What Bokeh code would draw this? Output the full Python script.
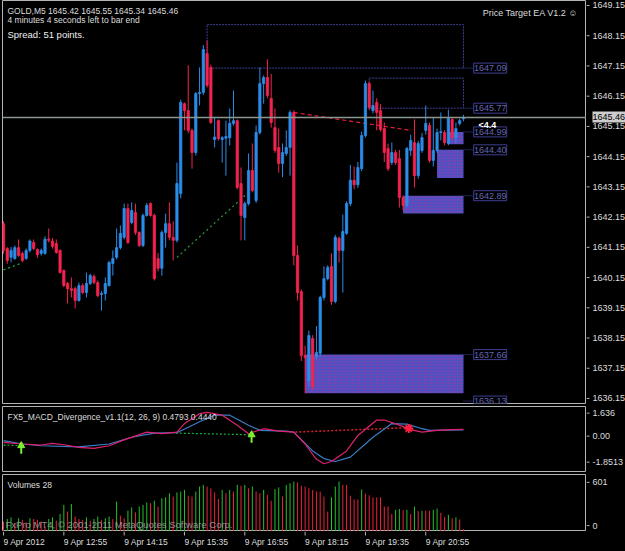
import numpy as np
from bokeh.plotting import figure
from bokeh.layouts import column, row
from bokeh.models import Range1d, Span, ColumnDataSource
from bokeh.core.properties import value
from bokeh.embed import file_html
from bokeh.resources import INLINE

# ---------------- data ----------------
opens = [1641.97, 1641.15, 1640.86, 1640.82, 1641.18, 1640.99, 1640.82, 1641.09, 1641.35, 1641.12,
         1640.99, 1640.99, 1641.46, 1641.40, 1641.32, 1641.09, 1640.43, 1640.00, 1639.83, 1639.83,
         1639.44, 1639.93, 1639.70, 1640.00, 1640.23, 1640.03, 1639.64, 1639.67, 1639.93, 1640.66,
         1640.86, 1641.18, 1641.52, 1642.47, 1642.01, 1642.34, 1641.68, 1641.25, 1642.24, 1642.63,
         1642.24, 1640.82, 1640.50, 1641.68, 1641.97, 1641.52, 1641.42, 1642.96, 1645.92, 1645.69,
         1645.04, 1644.31, 1646.25, 1646.29, 1647.57, 1647.11, 1644.74, 1645.36, 1644.74, 1644.78,
         1644.80, 1645.27, 1645.36, 1643.29, 1642.17, 1642.63, 1643.72, 1642.73, 1644.97, 1646.58,
         1646.78, 1646.09, 1645.13, 1644.48, 1643.95, 1644.28, 1644.48, 1645.63, 1640.92, 1639.73,
         1637.63, 1636.80, 1638.19, 1637.60, 1637.70, 1639.54, 1640.16, 1640.56, 1639.41, 1641.49,
         1641.09, 1641.65, 1642.63, 1643.40, 1643.25, 1643.78, 1644.87, 1646.58, 1645.69, 1645.96,
         1645.69, 1645.10, 1644.44, 1643.98, 1644.31, 1644.11, 1642.83, 1642.57, 1644.38, 1644.64,
         1643.55, 1644.38, 1645.04, 1645.20, 1644.05, 1644.38, 1644.97, 1644.97, 1644.61, 1645.40,
         1644.80, 1645.27, 1645.42]
highs = [1642.05, 1641.20, 1641.20, 1641.25, 1641.45, 1641.05, 1641.15, 1641.45, 1641.45, 1641.15,
         1641.15, 1641.55, 1641.81, 1641.50, 1641.45, 1641.12, 1640.46, 1640.05, 1640.20, 1639.90,
         1640.03, 1640.00, 1640.36, 1640.32, 1640.30, 1640.10, 1639.75, 1640.20, 1640.75, 1641.09,
         1641.81, 1641.91, 1642.63, 1642.63, 1642.67, 1642.63, 1641.72, 1642.30, 1642.65, 1642.67,
         1642.30, 1641.00, 1641.75, 1642.30, 1642.67, 1642.05, 1643.98, 1646.05, 1645.96, 1647.18,
         1645.10, 1646.30, 1647.11, 1647.85, 1648.00, 1647.20, 1645.46, 1645.40, 1644.85, 1645.36,
         1645.76, 1646.35, 1645.40, 1643.82, 1642.70, 1644.28, 1644.61, 1645.20, 1647.11, 1646.85,
         1647.38, 1646.90, 1645.76, 1645.10, 1644.61, 1645.04, 1645.70, 1645.69, 1641.25, 1639.80,
         1637.95, 1638.45, 1638.30, 1638.60, 1639.60, 1640.56, 1640.60, 1640.99, 1641.60, 1641.55,
         1642.27, 1642.70, 1643.90, 1643.85, 1644.00, 1645.00, 1646.68, 1646.65, 1646.35, 1646.10,
         1645.90, 1645.30, 1644.60, 1644.64, 1644.40, 1644.40, 1642.90, 1644.50, 1644.90, 1645.40,
         1644.70, 1644.95, 1645.86, 1645.30, 1645.46, 1645.10, 1645.63, 1645.05, 1645.72, 1645.45,
         1645.30, 1645.43, 1645.55]
lows = [1640.98, 1640.65, 1640.70, 1640.78, 1640.88, 1640.70, 1640.78, 1641.02, 1641.10, 1640.85,
        1640.92, 1640.95, 1641.35, 1641.15, 1640.98, 1640.33, 1639.88, 1639.34, 1639.54, 1639.18,
        1639.40, 1639.65, 1639.54, 1639.95, 1639.98, 1639.55, 1639.11, 1639.44, 1639.90, 1640.26,
        1640.80, 1641.12, 1641.45, 1641.30, 1641.95, 1641.60, 1641.20, 1641.20, 1642.20, 1642.20,
        1640.10, 1640.40, 1640.26, 1641.18, 1641.42, 1640.76, 1641.35, 1642.80, 1645.04, 1644.95,
        1643.78, 1644.21, 1645.86, 1646.20, 1646.45, 1645.25, 1644.48, 1644.70, 1643.98, 1643.55,
        1644.54, 1645.20, 1643.10, 1641.42, 1641.42, 1642.57, 1643.00, 1642.65, 1644.90, 1645.92,
        1646.10, 1645.13, 1644.30, 1643.65, 1643.50, 1644.20, 1643.55, 1640.60, 1639.44, 1637.45,
        1636.38, 1636.60, 1636.50, 1637.50, 1637.60, 1639.44, 1640.10, 1639.30, 1639.35, 1640.69,
        1639.70, 1641.60, 1642.55, 1643.10, 1643.15, 1643.70, 1644.80, 1645.70, 1645.60, 1645.04,
        1645.00, 1644.00, 1643.70, 1643.90, 1643.90, 1642.50, 1642.40, 1642.50, 1644.20, 1643.16,
        1643.45, 1644.30, 1644.90, 1643.98, 1643.85, 1644.30, 1644.71, 1644.55, 1644.55, 1644.75,
        1644.61, 1645.20, 1645.34]
closes = [1641.09, 1640.76, 1641.09, 1641.18, 1640.92, 1640.76, 1641.09, 1641.40, 1641.15, 1640.95,
          1641.09, 1641.46, 1641.42, 1641.22, 1641.02, 1640.36, 1639.93, 1639.83, 1639.77, 1639.44,
          1639.93, 1639.70, 1640.00, 1640.26, 1640.03, 1639.60, 1639.67, 1640.00, 1640.69, 1640.82,
          1641.18, 1641.65, 1642.47, 1641.35, 1642.40, 1641.68, 1641.25, 1642.24, 1642.57, 1642.24,
          1640.16, 1640.50, 1641.68, 1641.97, 1641.52, 1641.42, 1643.29, 1645.96, 1645.69, 1645.04,
          1644.31, 1646.25, 1646.29, 1647.70, 1646.52, 1645.30, 1644.82, 1644.77, 1644.80, 1644.84,
          1645.27, 1645.36, 1643.16, 1642.24, 1642.63, 1643.72, 1643.06, 1644.97, 1646.58, 1646.78,
          1646.19, 1645.30, 1644.38, 1643.95, 1644.31, 1644.48, 1645.63, 1640.92, 1639.70, 1637.63,
          1637.56, 1638.29, 1636.61, 1637.73, 1639.54, 1640.16, 1640.53, 1639.41, 1641.52, 1641.09,
          1641.71, 1642.63, 1643.40, 1643.25, 1643.82, 1644.87, 1646.58, 1645.79, 1645.86, 1645.63,
          1645.07, 1644.31, 1643.78, 1644.31, 1643.98, 1642.83, 1642.57, 1644.44, 1644.71, 1643.55,
          1644.61, 1644.80, 1645.27, 1644.05, 1644.38, 1644.97, 1645.00, 1644.64, 1645.43, 1644.80,
          1645.10, 1645.36, 1645.46]
volumes = [120, 150, 170, 100, 160, 140, 110, 160, 150, 140,
           120, 60, 150, 170, 130, 210, 320, 240, 330, 180,
           150, 140, 170, 130, 150, 180, 140, 160, 180, 150,
           360, 190, 160, 250, 290, 230, 300, 320, 350, 340,
           370, 300, 400, 410, 460, 420, 470, 480, 500, 430,
           420, 480, 540, 560, 540, 520, 470, 390, 500, 460,
           500, 480, 560, 550, 560, 520, 540, 480, 460, 500,
           440, 370, 510, 530, 420, 560, 580, 600, 590, 550,
           540, 520, 500, 480, 480, 420, 240, 410, 540, 601,
           560, 560, 430, 385, 385, 505, 455, 435, 410, 410,
           410, 300, 300, 210, 260, 270, 255, 260, 210, 300,
           245, 250, 250, 250, 260, 275, 225, 175, 200, 160,
           170, 145, 28]

macd_idx = [0, 5, 10, 13, 16, 20, 24, 28, 32, 38, 42, 46, 48, 52, 54, 58, 62, 65, 69, 73,
            77, 80, 83, 85, 87, 91, 94, 99, 101, 105, 108, 111, 115, 119, 122]
macd_val = [-0.40, -0.51, -0.58, -0.47, -0.56, -0.74, -0.81, -0.63, -0.23, 0.30, 0.19, 0.30,
            0.88, 1.55, 1.636, 1.45, 0.77, 0.19, 0.53, 0.37, 0.30, -0.51, -1.55, -1.8513, -1.70,
            -0.98, 0.07, 1.12, 1.12, 0.77, 0.47, 0.30, 0.42, 0.47, 0.4793]
signal_idx = [0, 5, 10, 20, 28, 34, 40, 46, 52, 56, 60, 65, 68, 75, 77, 82, 85, 88, 92, 98,
              103, 107, 111, 113, 122]
signal_val = [-0.28, -0.51, -0.63, -0.70, -0.51, -0.05, 0.23, 0.26, 1.00, 1.45, 1.45, 0.77,
              0.42, 0.37, 0.30, -0.98, -1.50, -1.70, -1.40, -0.05, 0.88, 0.84, 0.53, 0.42, 0.444]

# divergence lines (price and MACD)
price_green_x = [[0, 5], [46, 65.5]]
price_green_y = [[1640.45, 1640.68], [1640.86, 1643.06]]
price_red_x = [77, 108]
price_red_y = [1645.63, 1645.04]
macd_green_x = [[0, 4.7], [45.7, 65.8]]
macd_green_y = [[-0.58, -0.62], [0.23, 0.12]]
macd_red_x = [77.4, 107.5]
macd_red_y = [0.30, 0.60]
buy_arrow_x = [4.7, 65.8]
buy_arrow_y = [-0.62, 0.12]
sell_mark_x = [107.5]
sell_mark_y = [0.55]

# Price Target EA boxes
open_box_left = [54, 97]
open_box_top = [1648.52, 1646.76]
open_box_bottom = [1647.09, 1645.77]
fill_box_left = [118, 115, 106, 80]
fill_box_top = [1644.99, 1644.40, 1642.89, 1637.66]
fill_box_bottom = [1644.58, 1643.47, 1642.30, 1636.39]
target_levels = [1647.09, 1645.77, 1644.99, 1644.40, 1642.89, 1637.66, 1636.13]

price_ticks = [1636.15, 1637.15, 1638.15, 1639.15, 1640.15, 1641.15, 1642.15,
               1643.15, 1644.15, 1645.15, 1646.15, 1647.15, 1648.15, 1649.15]
macd_ticks = [1.636, 0.0, -1.8513]
macd_tick_labels = ["1.636", "0.00", "-1.8513"]
vol_max_tick = 601
vol_tick_labels = ["601", "0"]
xtick_idx = [0, 16, 32, 48, 64, 80, 96, 112]
xtick_labels = ["9 Apr 2012", "9 Apr 12:55", "9 Apr 14:15", "9 Apr 15:35",
                "9 Apr 16:55", "9 Apr 18:15", "9 Apr 19:35", "9 Apr 20:55"]

header_lines = ["GOLD,M5  1645.42 1645.55 1645.34 1645.46", "4 minutes 4 seconds left to bar end"]
spread_text = "Spread: 51 points."
ea_text = "Price Target EA  V1.2 \u263a"
macd_title = "FX5_MACD_Divergence_v1.1(12, 26, 9) 0.4793 0.4440"
vol_title = "Volumes 28"
copyright_text = "FxPro MT4, \u00a9 2001-2011 MetaQuotes Software Corp."
countdown_text = "<4.4"

# ---------------- styling ----------------
BG = "#000000"
GRID = "#b4b4b4"
TXT = "#dcdcdc"
BULL = "#2b8de8"
BEAR = "#f4234f"
VGREEN = "#22c22a"
VRED = "#f0203c"
TGT = "#3e3e92"
TGT_TXT = "#6464b4"
FONT = "Liberation Sans"

n = len(opens)
idx = np.arange(n)
PX = 3.77           # pixels per bar
FRAME_W = 584
AXIS_W = 39
x_start = -0.27
x_end = x_start + FRAME_W / PX
xr = Range1d(x_start, x_end)
last = n - 1


def panel(height, y0, y1, top, bottom):
    f = figure(width=FRAME_W + 2, height=height, x_range=xr, y_range=Range1d(y0, y1),
               x_axis_location=None, y_axis_location=None,
               output_backend="svg", toolbar_location=None,
               min_border_left=2, min_border_right=0, min_border_top=top, min_border_bottom=bottom)
    f.background_fill_color = BG
    f.border_fill_color = BG
    f.outline_line_color = GRID
    f.outline_line_width = 1
    f.grid.visible = False
    return f


def scale_column(height, y0, y1, top, bottom, ticks, labels):
    """Right-hand price scale: same vertical mapping as the panel, extended over its borders."""
    ppu = (height - top - bottom) / (y1 - y0)
    f = figure(width=AXIS_W, height=height, x_range=Range1d(0, AXIS_W),
               y_range=Range1d(y0 - bottom / ppu, y1 + top / ppu),
               x_axis_location=None, y_axis_location=None,
               output_backend="svg", toolbar_location=None,
               min_border_left=0, min_border_right=0, min_border_top=0, min_border_bottom=0)
    f.background_fill_color = BG
    f.border_fill_color = BG
    f.outline_line_color = None
    f.grid.visible = False
    f.segment(x0=[0] * len(ticks), y0=ticks, x1=[3] * len(ticks), y1=ticks,
              line_color=GRID, line_width=1)
    f.text(x=[6] * len(ticks), y=ticks, text=labels, text_color=TXT, text_font=value(FONT),
           text_font_size="9px", text_align="left", text_baseline="middle")
    return f


# ---------------- price panel ----------------
p_top, p_bot = 1649.315, 1636.05
P_H, P_TOP, P_BOT = 405, 0, 2
p = panel(P_H, p_bot, p_top, P_TOP, P_BOT)

bull = [c >= o for o, c in zip(opens, closes)]
ccol = [BULL if b else BEAR for b in bull]
src = ColumnDataSource(dict(x=idx, o=opens, h=highs, l=lows, c=closes,
                            top=[max(o, c) for o, c in zip(opens, closes)],
                            bot=[min(o, c) for o, c in zip(opens, closes)], col=ccol))

p.quad(left=open_box_left, right=[last] * len(open_box_left), top=open_box_top,
       bottom=open_box_bottom, fill_color=None, line_color=TGT, line_width=1, line_dash="2 1")
p.quad(left=fill_box_left, right=[last] * len(fill_box_left), top=fill_box_top,
       bottom=fill_box_bottom, fill_color="#4a52c4", line_color=None,
       hatch_pattern="dot", hatch_color="#b8309a", hatch_scale=3, hatch_weight=1.2)

p.add_layout(Span(location=closes[-1], dimension="width", line_color="#8a9690", line_width=1.5))

p.multi_line(xs=price_green_x, ys=price_green_y, line_color="#24a23c", line_width=1.2, line_dash="2 3")
p.line(price_red_x, price_red_y, line_color="#e8203c", line_width=1.2, line_dash="4 3")

p.segment(x0="x", y0="h", x1="x", y1="l", line_color="col", line_width=1, source=src)
p.vbar(x="x", width=0.6, top="top", bottom="bot", fill_color="col", line_color="col",
       line_width=0.8, source=src)

lab_x = last + 26.7 / PX
p.segment(x0=[last] * len(target_levels), y0=target_levels,
          x1=[lab_x - 16.5 / PX] * len(target_levels), y1=target_levels,
          line_color=TGT, line_width=1, line_dash="1 1")
p.rect(x=[lab_x] * len(target_levels), y=target_levels, width=33, height=10,
       width_units="screen", height_units="screen", fill_color=BG, line_color=TGT, line_width=1)
p.text(x=[lab_x] * len(target_levels), y=target_levels, text=["%.2f" % v for v in target_levels],
       text_color=TGT_TXT, text_font=value(FONT), text_font_size="9px",
       text_align="center", text_baseline="middle")

p.text(x=[x_start] * 2, y=[p_top] * 2, text=header_lines, x_offset=5, y_offset=[10, 19.5],
       text_color=TXT, text_font=value(FONT), text_font_size="8.5px", text_baseline="middle")
p.text(x=[x_start], y=[p_top], text=[spread_text], x_offset=5, y_offset=33.5,
       text_color="#f0f0f0", text_font=value(FONT), text_font_size="9.5px", text_baseline="middle")
p.text(x=[x_end], y=[p_top], text=[ea_text], x_offset=-6, y_offset=12,
       text_color=TXT, text_font=value(FONT), text_font_size="9px",
       text_align="right", text_baseline="middle")
p.text(x=[last], y=[closes[-1]], text=[countdown_text], x_offset=15, y_offset=7,
       text_color="#ffffff", text_font=value(FONT), text_font_size="9px",
       text_font_style="bold", text_baseline="middle")

pa = scale_column(P_H, p_bot, p_top, P_TOP, P_BOT, price_ticks, ["%.2f" % t for t in price_ticks])
# highlighted current bid on the scale
pa.rect(x=[AXIS_W / 2 + 3], y=[closes[-1]], width=AXIS_W - 6, height=11,
        width_units="screen", height_units="screen", fill_color="#cdcdcd", line_color=None)
pa.text(x=[6], y=[closes[-1]], text=["%.2f" % closes[-1]], text_color="#000000",
        text_font=value(FONT), text_font_size="9px", text_align="left", text_baseline="middle")

# ---------------- MACD panel ----------------
m_top, m_bot = 2.04, -2.38
M_H, M_TOP, M_BOT = 68, 1, 2
pm = panel(M_H, m_bot, m_top, M_TOP, M_BOT)
pm.multi_line(xs=macd_green_x, ys=macd_green_y, line_color="#22b03a", line_width=1.2, line_dash="2 2")
pm.line(macd_red_x, macd_red_y, line_color="#d8202e", line_width=1.5, line_dash="2 2")
pm.line(signal_idx, signal_val, line_color="#3a7ec8", line_width=1.2)
pm.line(macd_idx, macd_val, line_color="#e0206e", line_width=1.2)
pm.segment(x0=buy_arrow_x, y0=[v - 0.55 for v in buy_arrow_y], x1=buy_arrow_x, y1=buy_arrow_y,
           line_color="#7cf030", line_width=2)
pm.scatter(buy_arrow_x, buy_arrow_y, marker="triangle", size=7, fill_color="#7cf030",
           line_color="#7cf030")
pm.scatter(sell_mark_x, sell_mark_y, marker="asterisk", size=9, line_color="#ff2040", line_width=2)
pm.text(x=[x_start], y=[m_top], text=[macd_title], x_offset=5, y_offset=10,
        text_color=TXT, text_font=value(FONT), text_font_size="8.5px", text_baseline="middle")
pma = scale_column(M_H, m_bot, m_top, M_TOP, M_BOT, macd_ticks, macd_tick_labels)

# ---------------- Volume panel ----------------
V_H, V_TOP, V_BOT = 58, 1, 0
v_frame = V_H - V_TOP - V_BOT
v_top = vol_max_tick * v_frame / 50
pv = panel(V_H, 0, v_top, V_TOP, V_BOT)
vcol = [VGREEN if (i > 0 and volumes[i] > volumes[i - 1]) else VRED for i in range(n)]
pv.segment(x0=idx, y0=[0] * n, x1=idx, y1=volumes, line_color=vcol, line_width=1)
pv.text(x=[x_start], y=[v_top], text=[vol_title], x_offset=5, y_offset=10,
        text_color=TXT, text_font=value(FONT), text_font_size="8.5px", text_baseline="middle")
pv.text(x=[x_start], y=[0], text=[copyright_text], x_offset=3, y_offset=-7,
        text_color="#a8a8a8", text_alpha=0.85, text_font=value(FONT), text_font_size="9.5px",
        text_baseline="middle")
# MT4 prints the window minimum a few pixels above the bottom edge
zero_label_y = 6 * v_top / v_frame
pva = scale_column(V_H, 0, v_top, V_TOP, V_BOT, [vol_max_tick, zero_label_y], vol_tick_labels)

# ---------------- time axis strip ----------------
pl = figure(width=FRAME_W + 2 + AXIS_W, height=20, x_range=xr, y_range=Range1d(0, 20),
            x_axis_location=None, y_axis_location=None,
            output_backend="svg", toolbar_location=None,
            min_border_left=2, min_border_right=AXIS_W, min_border_top=0, min_border_bottom=0)
pl.background_fill_color = BG
pl.border_fill_color = BG
pl.outline_line_color = None
pl.grid.visible = False
pl.segment(x0=xtick_idx, y0=[20] * len(xtick_idx), x1=xtick_idx, y1=[16] * len(xtick_idx),
           line_color=GRID, line_width=1)
pl.text(x=xtick_idx, y=[15] * len(xtick_idx), text=xtick_labels,
        text_color=TXT, text_font=value(FONT), text_font_size="8.5px",
        text_align="left", text_baseline="top")

layout = column(row(p, pa, spacing=0), row(pm, pma, spacing=0), row(pv, pva, spacing=0), pl,
                spacing=0)
layout.styles = {"background-color": "#000000"}
open("out.html", "w").write(file_html(layout, INLINE))
